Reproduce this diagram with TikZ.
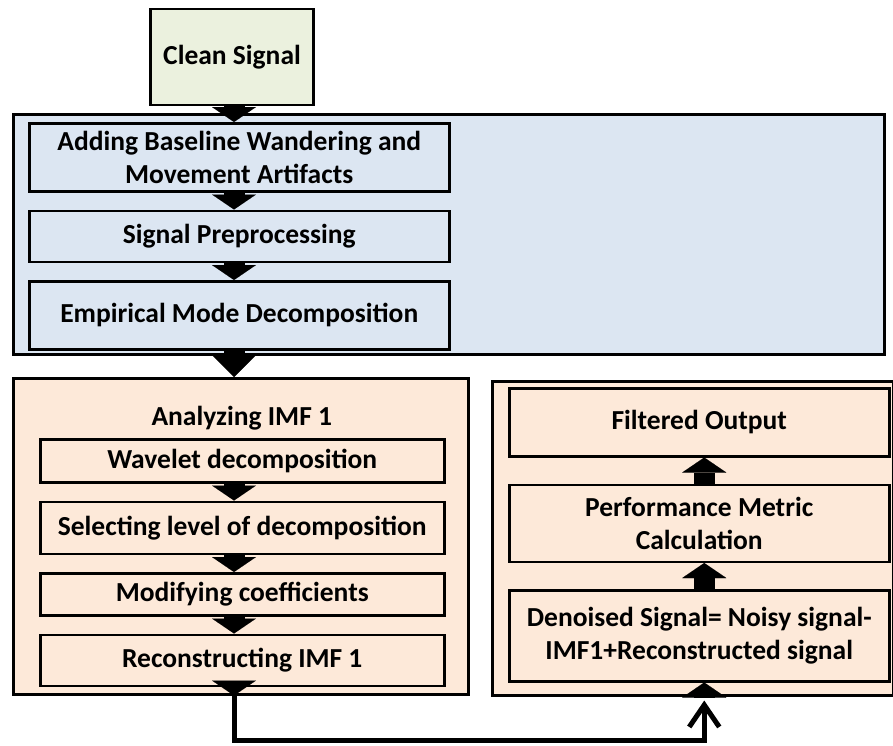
\documentclass[tikz,border=0pt]{standalone}
\usepackage{fontspec}
\setmainfont{Carlito}
\usepackage{tikz}
\usetikzlibrary{arrows.meta, positioning, calc}

\definecolor{cleanfill}{HTML}{EBF1DE}
\definecolor{noisefill}{HTML}{DCE6F2}
\definecolor{imffill}{HTML}{FDE9D9}

\begin{document}
\begin{tikzpicture}[x=1pt, y=1pt, node distance=17pt,
    every node/.style={font=\fontsize{27.5}{33}\selectfont\bfseries},
    panel/.style={rectangle, draw=black, line width=2.5pt, anchor=north west, inner sep=0pt},
    block/.style={rectangle, draw=black, line width=2.5pt, align=center, inner sep=0pt},
    fat/.style={line width=21pt, -{Triangle[width=44pt, length=15pt, line width=0.01pt]}},
    link/.style={line width=5pt, -{Straight Barb[width=30pt, length=22pt]}},
]
\useasboundingbox (0,0) rectangle (893,-745);

\node[block, fill=cleanfill, minimum width=163pt, minimum height=96pt] (clean) at (232,-57) {Clean Signal};

% noise and decomposition
\node[panel, fill=noisefill, minimum width=871pt, minimum height=240pt] (noise) at (12,-113) {};
\node[block, fill=noisefill, minimum width=420pt, minimum height=68pt, anchor=north west] (add) at ($(noise.north west)+(16,-9)$) {Adding Baseline Wandering and\\Movement Artifacts};
\node[block, fill=noisefill, minimum width=420pt, minimum height=51pt, below=of add] (prep) {Signal Preprocessing};
\node[block, fill=noisefill, minimum width=420pt, minimum height=68pt, below=of prep] (emd) {Empirical Mode Decomposition};

% IMF 1 analysis
\node[panel, fill=imffill, minimum width=455pt, minimum height=316pt] (imf) at (12,-377) {};
\node (title) at ($(imf.north)+(1,-41)$) {Analyzing IMF 1};
\node[block, fill=imffill, minimum width=404pt, minimum height=43pt, anchor=north west] (wave) at ($(imf.north west)+(27,-61)$) {Wavelet decomposition};
\node[block, fill=imffill, minimum width=404pt, minimum height=52pt, below=of wave] (level) {Selecting level of decomposition};
\node[block, fill=imffill, minimum width=404pt, minimum height=42pt, below=of level] (coeff) {Modifying coefficients};
\node[block, fill=imffill, minimum width=404pt, minimum height=51pt, below=of coeff] (recon) {Reconstructing IMF 1};

% output side
\node[panel, fill=imffill, minimum width=401pt, minimum height=314pt] (out) at (491,-380) {};
\node[block, fill=imffill, minimum width=380pt, minimum height=68pt, anchor=north west] (filtered) at ($(out.north west)+(17,-7)$) {Filtered Output};
\node[block, fill=imffill, minimum width=380pt, minimum height=77pt, below=26pt of filtered] (metric) {Performance Metric\\Calculation};
\node[block, fill=imffill, minimum width=380pt, minimum height=91pt, below=26pt of metric] (denoised) {Denoised Signal= Noisy signal-\\IMF1+Reconstructed signal};
\coordinate (up) at ([xshift=5pt]denoised.south);

\draw[fat] ([xshift=2pt]clean.south) -- ([xshift=2pt]add.north -| clean);
\draw[fat] ([xshift=2pt]add.south -| clean) -- ([xshift=2pt]prep.north -| clean);
\draw[fat] ([xshift=2pt]prep.south -| clean) -- ([xshift=2pt]emd.north -| clean);
\draw[fat, -{Triangle[width=44pt, length=22pt, line width=0.01pt]}] ([xshift=2pt]emd.south -| clean) -- ([xshift=2pt]imf.north -| clean);
\draw[fat] ([xshift=2pt]wave.south -| clean) -- ([xshift=2pt]level.north -| clean);
\draw[fat] ([xshift=2pt]level.south -| clean) -- ([xshift=2pt]coeff.north -| clean);
\draw[fat] ([xshift=2pt]coeff.south -| clean) -- ([xshift=2pt]recon.north -| clean);
\draw[fat] ([xshift=2pt]recon.south -| clean) -- ([xshift=2pt]imf.south -| clean);

\draw[link] ([xshift=2pt]imf.south -| clean) -- ++(0,-45) -| ([yshift=-4pt]out.south -| up);

\draw[fat] (out.south -| up) -- (up);
\draw[fat] (denoised.north -| up) -- (metric.south -| up);
\draw[fat] (metric.north -| up) -- (filtered.south -| up);
\end{tikzpicture}
\end{document}
